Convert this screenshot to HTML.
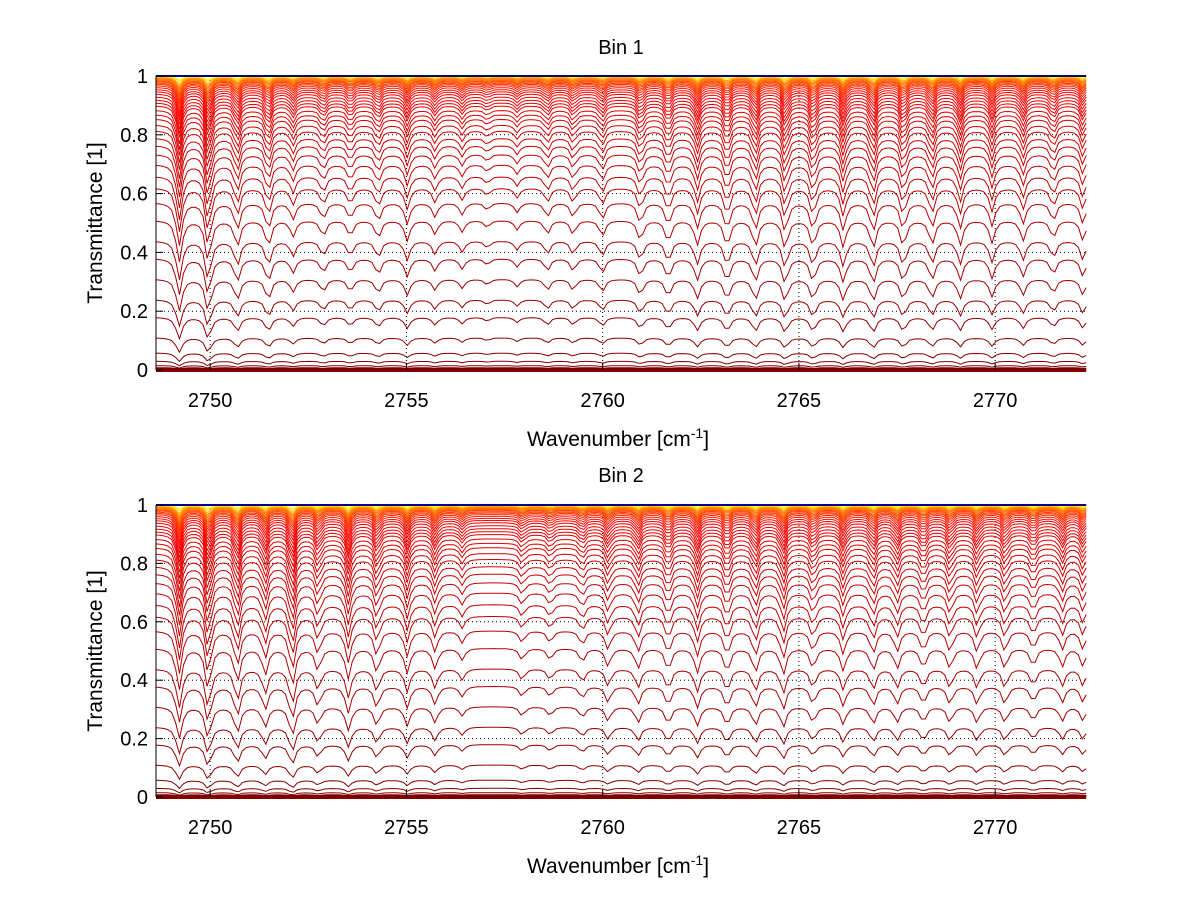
<!DOCTYPE html>
<html><head><meta charset="utf-8">
<style>
html,body{margin:0;padding:0;background:#fff;}
svg{display:block;font-family:"Liberation Sans",sans-serif;}
</style></head>
<body>
<svg id="fig" width="1200" height="901" viewBox="0 0 1200 901">
<rect x="0" y="0" width="1200" height="901" fill="#fff"/>
</svg>
<script>
// ---- data ----
const xTicks = [2750, 2755, 2760, 2765, 2770];
const yTicks = [0, 0.2, 0.4, 0.6, 0.8, 1];
const yTickLabels = ["0", "0.2", "0.4", "0.6", "0.8", "1"];
const xRange = [2748.62, 2772.34];
const baseT = [0,0.003,0.008,0.015,0.03,0.058,0.11,0.18,0.24,0.31,0.38,0.44,0.51,0.57,0.62,0.66,0.70,0.735,0.765,0.79,0.815,0.835,0.855,0.87,0.885,0.9,0.91,0.92,0.93,0.94,0.948,0.955,0.962,0.968,0.973,0.977,0.981,0.984,0.987,0.99,0.992,0.994,0.996,0.998,0.999,1];
const bin1Centers = [2749.21,2749.95,2750.69,2751.48,2752.11,2752.88,2753.57,2754.28,2755.02,2755.73,2756.42,2757.06,2757.82,2758.59,2759.25,2759.99,2760.96,2761.67,2762.41,2763.17,2763.89,2764.65,2765.36,2766.13,2766.89,2767.66,2768.39,2769.11,2769.92,2770.71,2771.48,2772.24];
const bin1Strength = [1,1,0.6,0.6,0.35,0.35,0.35,0.4,0.45,0.3,0.25,0.15,0.2,0.3,0.3,0.35,0.45,0.5,0.55,0.6,0.6,0.65,0.6,0.6,0.65,0.6,0.55,0.55,0.5,0.45,0.4,0.45];
const bin2Centers = [2749.21,2749.95,2750.69,2751.40,2752.09,2752.75,2753.52,2754.25,2755.02,2755.73,2756.42,2757.95,2758.66,2759.48,2760.14,2760.90,2761.67,2762.41,2763.17,2763.89,2764.60,2765.36,2766.13,2766.89,2767.50,2768.17,2768.85,2769.54,2770.25,2770.97,2771.71,2772.24];
const bin2Strength = [1,1,0.8,0.6,0.9,0.5,0.7,0.55,0.55,0.45,0.25,0.25,0.25,0.3,0.4,0.45,0.5,0.55,0.55,0.55,0.6,0.45,0.5,0.5,0.45,0.45,0.45,0.45,0.45,0.4,0.4,0.4];

const NS = "http://www.w3.org/2000/svg";
const svg = document.getElementById("fig");
function mk(tag, attrs, parent){ const e=document.createElementNS(NS,tag); for(const k in attrs) e.setAttribute(k,attrs[k]); (parent||svg).appendChild(e); return e; }

function jet(v){
  const r=Math.min(4*v-1.5,-4*v+4.5), g=Math.min(4*v-0.5,-4*v+3.5), b=Math.min(4*v+0.5,-4*v+2.5);
  const c=x=>Math.round(255*Math.max(0,Math.min(1,x)));
  return `rgb(${c(r)},${c(g)},${c(b)})`;
}
const clamp01 = x => Math.max(0, Math.min(1, x));

function drawPanel(p){
  const L=156, R=1087, y0=p.y0, y1=p.y1;
  const sx = w => L + (w - xRange[0])/(xRange[1]-xRange[0])*(R-L);
  const sy = t => y0 - t*(y0-y1);
  const g = mk("g",{});
  
  
  const grid = mk("g",{},g);
  
  
  yTicks.forEach(t=>{ if(t>0&&t<1){ mk("line",{x1:L,x2:R,y1:sy(t),y2:sy(t),stroke:"#000","stroke-width":1,"stroke-dasharray":"1,3"},grid);} });
  xTicks.forEach(w=>{ mk("line",{x1:sx(w),x2:sx(w),y1:y1,y2:y0,stroke:"#000","stroke-width":1,"stroke-dasharray":"1,3"},grid);} );
  const curves = mk("g",{},g);
  
  
  const gam=0.08;
  baseT.forEach((T0,i)=>{
    const a = T0>0 ? -Math.log(T0) : 8;
    const b = 0.4*Math.sqrt(a);
    let d="";
    for(let w=xRange[0]; w<=xRange[1]+0.001; w+=0.1){
      let s=0;
      for(let j=0;j<p.centers.length;j++){ const dd=w-p.centers[j]; s+=p.strength[j]*gam*gam/(dd*dd+gam*gam); }
      const T = T0*Math.exp(-b*s);
      d += (d?"L":"M")+sx(w).toFixed(1)+","+sy(T).toFixed(1);
    }
    let col;
    if(T0>=1) col="#00008f";
    else {
      const tau=Math.max(a,1e-4), lt=Math.log10(tau);
      let v;
      if(tau>=0.06) v = 0.88 + 0.12*clamp01((lt+1.2)/1.7);
      else v = 0.62 + 0.26*clamp01((lt+3)/1.78);
      col=jet(v);
    }
    const el = mk("path",{d:d,fill:"none",stroke:col,"stroke-width":(T0===0?4:(T0>=1?2:1))},curves);
    
    
  });
  const ax=mk("line",{x1:L,x2:L,y1:y1,y2:y0,stroke:"#000","stroke-width":1},g);
  
  
  yTicks.forEach((t,i)=>{
    mk("line",{x1:L,x2:L+7,y1:sy(t),y2:sy(t),stroke:"#000"},g);
    const tx=mk("text",{x:148,y:sy(t)+7,"text-anchor":"end","font-size":20,fill:"#000"},g);
    tx.textContent=yTickLabels[i];
    
    
  });
  xTicks.forEach(w=>{
    mk("line",{x1:sx(w),x2:sx(w),y1:y0,y2:y0-7,stroke:"#000"},g);
    const tx=mk("text",{x:sx(w),y:y0+37,"text-anchor":"middle","font-size":20,fill:"#000"},g);
    tx.textContent=String(w);
    
    
  });
  const title=mk("text",{x:621,y:p.titleY,"text-anchor":"middle","font-size":20,fill:"#000"},g);
  title.textContent=p.title;
  
  
  const xl=mk("text",{x:618,y:y0+76,"text-anchor":"middle","font-size":21,fill:"#000"},g);
  xl.innerHTML='Wavenumber [cm<tspan dy="-8" font-size="14">-1</tspan><tspan dy="8">]</tspan>';
  
  
  const cy=(y0+y1)/2;
  const yl=mk("text",{x:0,y:0,"text-anchor":"middle","font-size":21,fill:"#000",transform:`translate(102,${cy}) rotate(-90)`},g);
  yl.textContent="Transmittance [1]";
  
  
}
drawPanel({name:"bin-1-panel",title:"Bin 1",titleY:54,y0:370,y1:76,centers:bin1Centers,strength:bin1Strength});
drawPanel({name:"bin-2-panel",title:"Bin 2",titleY:482,y0:797,y1:505,centers:bin2Centers,strength:bin2Strength});
</script>
</body></html>
